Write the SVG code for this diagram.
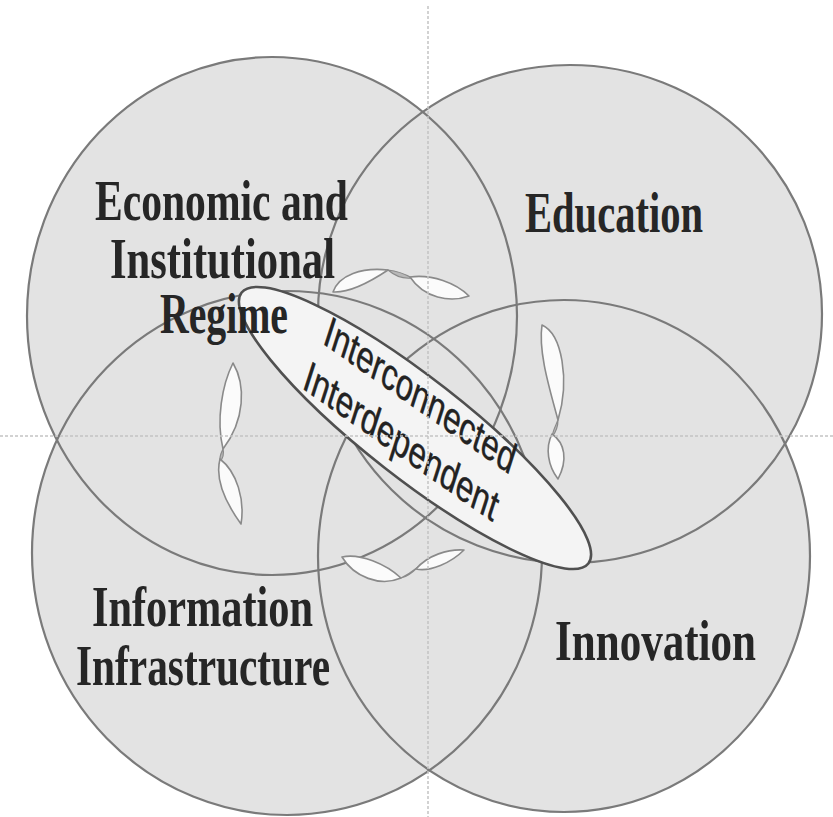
<svg xmlns="http://www.w3.org/2000/svg" width="833" height="817" viewBox="0 0 833 817">
<defs>
<style>
.fill{fill:#e3e3e3;stroke:none}
.ring{fill:none;stroke:#7a7a7a;stroke-width:2.2}
.lbl{font-family:"Liberation Serif","Times New Roman",serif;font-weight:bold;font-size:56px;fill:#262626;text-anchor:middle}
.core{fill:#f4f4f4;stroke:#505050;stroke-width:2.6}
.coretxt{font-family:"Liberation Sans",Arial,sans-serif;font-size:40px;fill:#222222;text-anchor:middle;stroke:#222222;stroke-width:0.4}
.lobe{fill:#fbfbfb;stroke:#8a8a8a;stroke-width:1.6;stroke-linejoin:round}
.twist{fill:#b8b8b8;stroke:#8a8a8a;stroke-width:1.2}
.guide{stroke:#c4c4c4;stroke-width:2;stroke-dasharray:3 2;opacity:0.75}
</style>
</defs>
<rect width="833" height="817" fill="#ffffff"/>
<g id="shapes">
<ellipse class="fill" cx="272" cy="316" rx="245" ry="259"/>
<ellipse class="fill" cx="570" cy="314" rx="252" ry="249"/>
<ellipse class="fill" cx="287" cy="553" rx="255" ry="262"/>
<ellipse class="fill" cx="564" cy="556" rx="246" ry="256"/>
<ellipse id="ring-economic" class="ring" cx="272" cy="316" rx="245" ry="259"/>
<ellipse id="ring-education" class="ring" cx="570" cy="314" rx="252" ry="249"/>
<ellipse id="ring-information" class="ring" cx="287" cy="553" rx="255" ry="262"/>
<ellipse id="ring-innovation" class="ring" cx="564" cy="556" rx="246" ry="256"/>
</g>
<g id="connectors">
<g id="ribbon-left">
<path class="lobe" d="M233,363 C246,385 245,420 223,449 C216,420 222,385 233,363 Z"/>
<path class="twist" d="M223,449 C221,453 219,457 220,462 C223,458 224,453 223,449 Z"/>
<path class="lobe" d="M220,459 C237,472 245,500 241,524 C228,506 214,482 220,459 Z"/>
</g>
<g id="ribbon-right">
<path class="lobe" d="M542,325 C562,334 570,380 558,420 C550,390 538,352 542,325 Z"/>
<path class="twist" d="M558,420 C556,425 553,430 552,437 C556,432 558,426 558,420 Z"/>
<path class="lobe" d="M552,434 C545,448 548,466 558,479 C568,460 565,443 552,434 Z"/>
</g>
<g id="ribbon-top">
<path class="lobe" d="M333,292 C339,275 362,267 388,270 C370,282 350,293 333,292 Z"/>
<path class="twist" d="M388,270 C398,271 405,274 412,278 C404,279 395,276 388,270 Z"/>
<path class="lobe" d="M410,277 C432,274 456,283 469,296 C450,303 424,298 410,277 Z"/>
</g>
<g id="ribbon-bottom">
<path class="lobe" d="M342,557 C360,553 386,564 401,578 C380,587 354,577 342,557 Z"/>
<path class="twist" d="M401,578 C407,575 413,571 418,567 C412,573 406,577 401,578 Z"/>
<path class="lobe" d="M416,569 C428,555 448,549 464,550 C451,563 430,572 416,569 Z"/>
</g>
</g>
<g id="interconnected-interdependent">
<ellipse class="core" cx="415" cy="428" rx="220" ry="50" transform="rotate(38 415 428)"/>
<g transform="matrix(0.712,0.499,-0.322,1.0,416,409)">
<text class="coretxt" x="0" y="0">Interconnected</text>
<text class="coretxt" x="-4.8" y="48.4">Interdependent</text>
</g>
</g>
<g id="economic-institutional-regime">
<text class="lbl" x="221.5" y="220" textLength="253" lengthAdjust="spacingAndGlyphs">Economic and</text>
<text class="lbl" x="222.5" y="278" textLength="225" lengthAdjust="spacingAndGlyphs">Institutional</text>
<text class="lbl" x="224" y="333" textLength="128" lengthAdjust="spacingAndGlyphs">Regime</text>
</g>
<g id="education">
<text class="lbl" x="614" y="232" textLength="178" lengthAdjust="spacingAndGlyphs">Education</text>
</g>
<g id="information-infrastructure">
<text class="lbl" x="202.5" y="626" textLength="221" lengthAdjust="spacingAndGlyphs">Information</text>
<text class="lbl" x="203" y="685" textLength="254" lengthAdjust="spacingAndGlyphs">Infrastructure</text>
</g>
<g id="innovation">
<text class="lbl" x="655.5" y="660" textLength="201" lengthAdjust="spacingAndGlyphs">Innovation</text>
</g>
<g id="guides">
<line class="guide" x1="428" y1="6" x2="428" y2="817"/>
<line class="guide" x1="0" y1="436" x2="833" y2="436"/>
</g>
</svg>
